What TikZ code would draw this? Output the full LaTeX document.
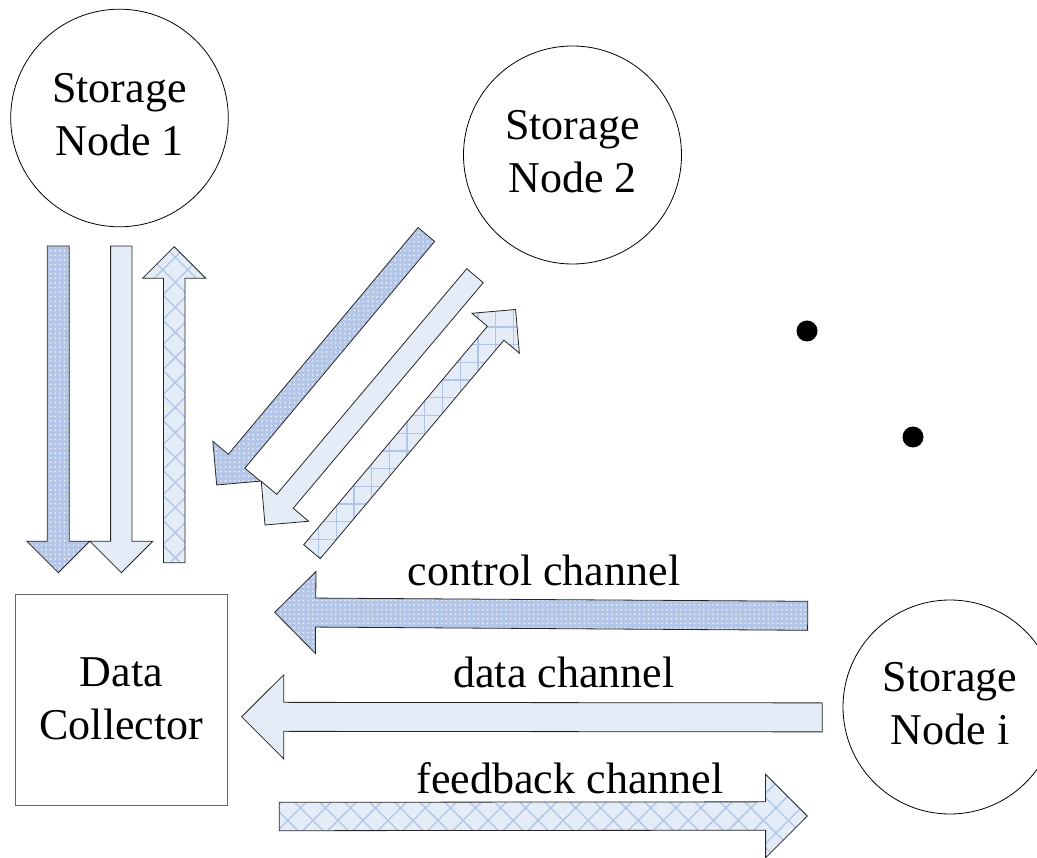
\documentclass[tikz,border=0pt]{standalone}
\usepackage{fontspec}
\setmainfont{Liberation Serif}
\usetikzlibrary{calc,patterns.meta}

\definecolor{dotfill}{HTML}{B3C6E8}
\definecolor{paleblue}{HTML}{E4ECF7}
\definecolor{hatchline}{HTML}{AFC4E6}

\tikzset{
  bigtext/.style={font=\fontsize{44}{53}\selectfont},
  storage/.style={circle, draw=black, line width=0.8pt, inner sep=0pt,
    align=center, text depth=8pt, bigtext},
  collector/.style={rectangle, draw=black!60, line width=1.2pt, inner sep=0pt,
    minimum width=211.6pt, minimum height=211.4pt, align=center, text depth=2.5pt, bigtext},
  chanlabel/.style={anchor=base, inner sep=0pt, bigtext},
  dotmark/.style={circle, fill=black, inner sep=0pt, minimum size=21pt},
  arrowline/.style={draw=black!85, line width=0.8pt, line join=miter},
  % control channel: blue with a fine dot grid
  ctrlarrow/.style={arrowline, preaction={fill=dotfill},
    preaction={pattern={Dots[radius=0.9pt,distance=4.6pt]}, pattern color=white!80!dotfill}},
  % data channel: plain pale blue
  dataarrow/.style={arrowline, fill=paleblue},
  % feedback channel: pale blue with a diagonal lattice
  fbarrow/.style={arrowline, preaction={fill=paleblue},
    preaction={pattern={Lines[angle=45,distance=17.7pt,line width=1.3pt]}, pattern color=hatchline},
    preaction={pattern={Lines[angle=-45,distance=17.7pt,line width=1.3pt]}, pattern color=hatchline}},
  fbarrowtilt/.style={arrowline, preaction={fill=paleblue},
    preaction={pattern={Lines[angle=0,distance=17.7pt,line width=1.3pt]}, pattern color=hatchline},
    preaction={pattern={Lines[angle=90,distance=17.7pt,line width=1.3pt]}, pattern color=hatchline}},
}

% block arrow: #1 style, #2 tail, #3 tip, #4 half shaft width, #5 half head width (90 degree tip)
\newcommand{\fatarrow}[5]{%
  \coordinate (#3-base) at ($(#3)!#5!(#2)$);
  \path[#1] ($(#2)!#4!90:(#3)$) -- ($(#3-base)!#4!90:(#3)$)
    -- ($(#3-base)!#5!90:(#3)$) -- (#3) -- ($(#3-base)!#5!-90:(#3)$)
    -- ($(#3-base)!#4!-90:(#3)$) -- ($(#2)!#4!-90:(#3)$) -- cycle;}

\begin{document}
\begin{tikzpicture}[x=1pt,y=1pt]
\useasboundingbox (0,0) rectangle (1037,-858);

% nodes
\node[storage, minimum size=217.6pt] (sn1) at (119.5,-118) {Storage\\Node 1};
\node[storage, minimum size=218pt] (sn2) at (572.5,-155) {Storage\\Node 2};
\node[storage, minimum size=214pt] (sni) at (950,-707) {Storage\\Node i};
\node[collector] (dc) at (121.5,-700) {Data\\Collector};

\node[dotmark] (dot1) at (807,-331) {};
\node[dotmark] (dot2) at (913,-437) {};

% arrow end points
\coordinate (a1t) at (58.3,-246);   \coordinate (a1h) at (58.3,-572.7);
\coordinate (a2t) at (121.3,-246);  \coordinate (a2h) at (121.3,-572.7);
\coordinate (a3t) at (174.2,-562.7); \coordinate (a3h) at (174.2,-246.7);
\coordinate (b1t) at (426.3,-234.5); \coordinate (b1h) at (216.7,-485);
\coordinate (b2t) at (475,-275.7);  \coordinate (b2h) at (265,-525);
\coordinate (b3t) at (312,-551.7);  \coordinate (b3h) at (515.6,-309.5);
\coordinate (c1t) at (807.7,-615.8); \coordinate (c1h) at (274.7,-612.3);
\coordinate (c2t) at (822.3,-717.4); \coordinate (c2h) at (241.7,-716.8);
\coordinate (c3t) at (279.3,-816.5); \coordinate (c3h) at (807.3,-816);

% Storage Node 1 <-> Data Collector
\fatarrow{ctrlarrow}{a1t}{a1h}{11pt}{31.5pt}
\fatarrow{dataarrow}{a2t}{a2h}{10.7pt}{31.5pt}
\fatarrow{fbarrow}{a3t}{a3h}{10.8pt}{31.5pt}

% Storage Node 2 <-> Data Collector
\fatarrow{ctrlarrow}{b1t}{b1h}{10.8pt}{31pt}
\fatarrow{dataarrow}{b2t}{b2h}{10.8pt}{31pt}
\fatarrow{fbarrowtilt}{b3t}{b3h}{10.8pt}{31pt}

% Storage Node i <-> Data Collector
\fatarrow{ctrlarrow}{c1t}{c1h}{14.5pt}{41pt}
\fatarrow{dataarrow}{c2t}{c2h}{14.5pt}{42pt}
\fatarrow{fbarrow}{c3t}{c3h}{14.2pt}{41.7pt}

% channel labels
\node[chanlabel] (lctrl) at (544,-586) {control channel};
\node[chanlabel] (ldata) at (564,-687) {data channel};
\node[chanlabel] (lfb) at (570,-793.3) {feedback channel};
\end{tikzpicture}
\end{document}
